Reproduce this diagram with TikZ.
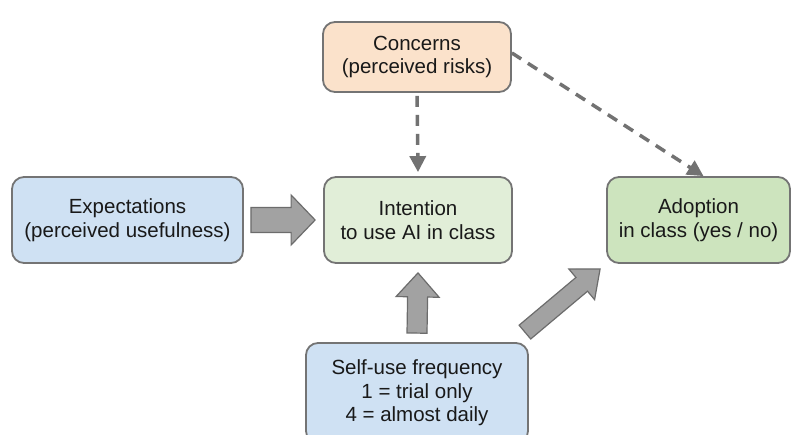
\documentclass[tikz,border=0pt]{standalone}
\usepackage{fontspec}
\setmainfont{Liberation Sans}
\usetikzlibrary{calc,arrows.meta}

\definecolor{peach}{HTML}{FBE2CB}
\definecolor{lightblue}{HTML}{CFE1F3}
\definecolor{palegreen}{HTML}{E1EED8}
\definecolor{midgreen}{HTML}{CDE4BE}
\definecolor{boxline}{HTML}{747474}
\definecolor{arrowfill}{HTML}{A2A2A2}
\definecolor{arrowline}{HTML}{6C6C6C}
\definecolor{dashgray}{HTML}{727272}

\tikzset{
  box/.style={draw=boxline, line width=1.8pt, rounded corners=12pt, align=center,
    text=black!90, font=\fontsize{20.5}{23.5}\selectfont},
  dasharrow/.style={draw=dashgray, line width=3.5pt, dash pattern=on 11pt off 8pt,
    -{Triangle[length=16pt,width=16pt]}},
  blockarrow/.style={draw=arrowline, fill=arrowfill, line width=1.2pt, line join=miter}
}

% fat arrow: from, to, half shaft, half head
\newcommand\blockarrow[4]{%
  \coordinate (h) at ($(#2)!24pt!(#1)$);
  \draw[blockarrow] ($(#1)!#3!90:(#2)$) -- ($(h)!#3!90:(#2)$) -- ($(h)!#4!90:(#2)$)
    -- (#2) -- ($(h)!#4!-90:(#2)$) -- ($(h)!#3!-90:(#2)$) -- ($(#1)!#3!-90:(#2)$) -- cycle;}

\begin{document}
\begin{tikzpicture}[x=1pt,y=-1pt]
    \clip (0,0) rectangle (795,435);
    \fill[white] (0,0) rectangle (795,435);

    % boxes
    \node[box, fill=peach, minimum width=188pt, minimum height=70pt] (con) at (417,57)
      {Concerns\\(perceived risks)};
    \node[box, fill=lightblue, minimum width=231pt, minimum height=86pt] (exp) at (127.5,220)
      {Expectations\\(perceived usefulness)};
    \node[box, fill=palegreen, minimum width=188pt, minimum height=86pt] (int) at (418,220)
      {Intention\\to use AI in class};
    \node[box, fill=midgreen, minimum width=183pt, minimum height=86pt] (ado) at (698.5,220)
      {Adoption\\in class (yes / no)};
    \node[box, fill=lightblue, minimum width=222pt, minimum height=100pt] (use) at (417,393)
      {Self-use frequency\\1 = trial only\\4 = almost daily};

    % fat arrows
    \coordinate (e1) at ([xshift=7pt]exp.east);
    \coordinate (e2) at ([xshift=-8pt]int.west);
    \blockarrow{e1}{e2}{12.5pt}{25pt}
    \coordinate (u1) at ([yshift=9pt]use.north);
    \coordinate (u2) at ([yshift=-9pt]int.south);
    \blockarrow{u1}{u2}{10pt}{21.5pt}
    \coordinate (a1) at ([xshift=-4pt,yshift=10pt]use.north east);
    \coordinate (a2) at ([xshift=-6pt,yshift=-5pt]ado.south west);
    \blockarrow{a1}{a2}{9pt}{20pt}

    % dashed arrows
    \draw[dasharrow] ([yshift=-3pt]con.south) -- ([yshift=4pt]int.north);
    \draw[dasharrow] ([yshift=4pt]con.east) -- ([xshift=5pt]ado.north);
\end{tikzpicture}
\end{document}
